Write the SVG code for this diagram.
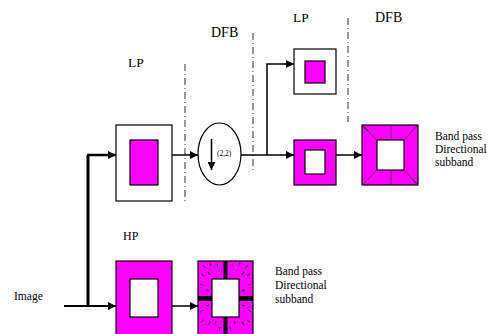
<svg xmlns="http://www.w3.org/2000/svg" width="491" height="334" viewBox="0 0 491 334">
<defs>
<marker id="ah" viewBox="0 0 10 10" refX="10" refY="5" markerWidth="8" markerHeight="8" markerUnits="userSpaceOnUse" orient="auto"><path d="M0,0 L10,5 L0,10 Z" fill="#000"/></marker>
<style>
text{font-family:'Liberation Serif','Times New Roman',serif;fill:#000}
.box{stroke:#000;stroke-width:1.2}
.mag{fill:#ff00ff}
.wh{fill:#fff}
.ln{stroke:#000;fill:none;stroke-width:1.5}
.dd{stroke:#333;stroke-width:1;fill:none;stroke-dasharray:7,3,1,3}
.thin{stroke:#333;stroke-width:0.8;fill:none}
.tick{stroke:#222;stroke-width:1.2}
</style>
</defs>
<rect width="491" height="334" fill="#fff"/>
<g id="dividers">
<line class="dd" x1="185" y1="64" x2="185" y2="201"/>
<line class="dd" x1="253" y1="33" x2="253" y2="170"/>
<line class="dd" x1="348" y1="18" x2="348" y2="122"/>
</g>
<g id="labels" font-family="Liberation Serif, serif">
<text x="128" y="67" font-size="13.5">LP</text>
<text x="211" y="37" font-size="14">DFB</text>
<text x="293" y="22" font-size="13.5">LP</text>
<text x="375" y="22" font-size="14">DFB</text>
<text x="123" y="240" font-size="12">HP</text>
<text x="14" y="300" font-size="11.5">Image</text>
</g>
<g id="connectors">
<line x1="88" y1="155" x2="88" y2="307" stroke="#000" stroke-width="3"/>
<line x1="87" y1="155" x2="116" y2="155" stroke="#000" stroke-width="2.5" marker-end="url(#ah)"/>
<line x1="64" y1="306" x2="116" y2="306" stroke="#000" stroke-width="2" marker-end="url(#ah)"/>
<line class="ln" x1="172" y1="306" x2="198" y2="306" marker-end="url(#ah)"/>
<line class="ln" x1="172" y1="155" x2="198" y2="155" marker-end="url(#ah)"/>
<line class="ln" x1="241" y1="155" x2="294" y2="155" marker-end="url(#ah)"/>
<polyline class="ln" points="267,155 267,64 294,64" marker-end="url(#ah)"/>
<line class="ln" x1="336" y1="155" x2="362" y2="155" marker-end="url(#ah)"/>
</g>
<g id="lp1">
<rect class="box wh" x="116" y="125" width="56" height="76"/>
<rect class="box mag" x="130" y="140" width="28" height="45"/>
</g>
<g id="hp">
<rect class="box mag" x="116" y="261" width="56" height="80"/>
<rect class="box wh" x="130" y="279" width="28" height="38"/>
</g>
<g id="down">
<ellipse cx="219.5" cy="154" rx="21.5" ry="31" fill="#fff" stroke="#000" stroke-width="1.2"/>
<line x1="211.5" y1="139" x2="211.5" y2="170" stroke="#000" stroke-width="1.5" marker-end="url(#ah)"/>
<text x="217" y="156" font-size="7.5" font-family="Liberation Serif, serif">(2,2)</text>
</g>
<g id="lp2">
<rect class="box wh" x="294" y="49" width="42" height="45"/>
<rect class="box mag" x="305" y="61" width="20" height="22"/>
</g>
<g id="lp3">
<rect class="box mag" x="294" y="140" width="42" height="45"/>
<rect class="box wh" x="305" y="150" width="20" height="24"/>
</g>
<g id="dfb1">
<rect class="box mag" x="362" y="125" width="56" height="60"/>
<rect class="box wh" x="377" y="140" width="27" height="30"/>
<line class="thin" x1="391" y1="125" x2="391" y2="140"/>
<line class="thin" x1="391" y1="170" x2="391" y2="185"/>
<line class="thin" x1="362" y1="125" x2="377" y2="140"/>
<line class="thin" x1="418" y1="125" x2="404" y2="140"/>
<line class="thin" x1="362" y1="185" x2="377" y2="170"/>
<line class="thin" x1="418" y1="185" x2="404" y2="170"/>
<line class="tick" x1="364" y1="127" x2="368" y2="131"/>
<line class="tick" x1="413" y1="180" x2="416" y2="183"/>
</g>
<g id="dfb2">
<rect class="box mag" x="198" y="261" width="55" height="80"/>
<rect class="box wh" x="212" y="279" width="27" height="38"/>
<rect x="223.5" y="261" width="4" height="18" fill="#000"/>
<rect x="223.5" y="317" width="4" height="24" fill="#000"/>
<rect x="198" y="296" width="14" height="5" fill="#000"/>
<rect x="239" y="296" width="14" height="5" fill="#000"/>
<g class="tick">
<line x1="203" y1="265" x2="205" y2="268"/><line x1="210" y1="263" x2="211" y2="266"/><line x1="217" y1="264" x2="218" y2="267"/>
<line x1="233" y1="264" x2="232" y2="267"/><line x1="240" y1="263" x2="239" y2="266"/><line x1="248" y1="265" x2="246" y2="268"/>
<line x1="201" y1="274" x2="204" y2="276"/><line x1="208" y1="272" x2="210" y2="275"/><line x1="244" y1="272" x2="242" y2="275"/><line x1="250" y1="274" x2="247" y2="276"/>
<line x1="200" y1="284" x2="203" y2="285"/><line x1="206" y1="290" x2="209" y2="291"/><line x1="251" y1="284" x2="248" y2="285"/><line x1="245" y1="290" x2="242" y2="291"/>
<line x1="200" y1="312" x2="203" y2="310"/><line x1="206" y1="306" x2="209" y2="305"/><line x1="251" y1="312" x2="248" y2="310"/><line x1="245" y1="306" x2="242" y2="305"/>
<line x1="201" y1="322" x2="204" y2="320"/><line x1="208" y1="325" x2="210" y2="322"/><line x1="244" y1="325" x2="242" y2="322"/><line x1="250" y1="322" x2="247" y2="320"/>
<line x1="215" y1="324" x2="216" y2="321"/><line x1="219" y1="330" x2="220" y2="327"/><line x1="235" y1="324" x2="234" y2="321"/><line x1="231" y1="330" x2="230" y2="327"/>
</g>
</g>
<g id="bp-labels" font-family="Liberation Serif, serif">
<text x="435" y="140" font-size="11.5">Band pass</text>
<text x="435" y="153" font-size="11.5">Directional</text>
<text x="435" y="166" font-size="11.5">subband</text>
<text x="275" y="275" font-size="11.5">Band pass</text>
<text x="275" y="289" font-size="11.5">Directional</text>
<text x="275" y="303" font-size="11.5">subband</text>
</g>
</svg>
